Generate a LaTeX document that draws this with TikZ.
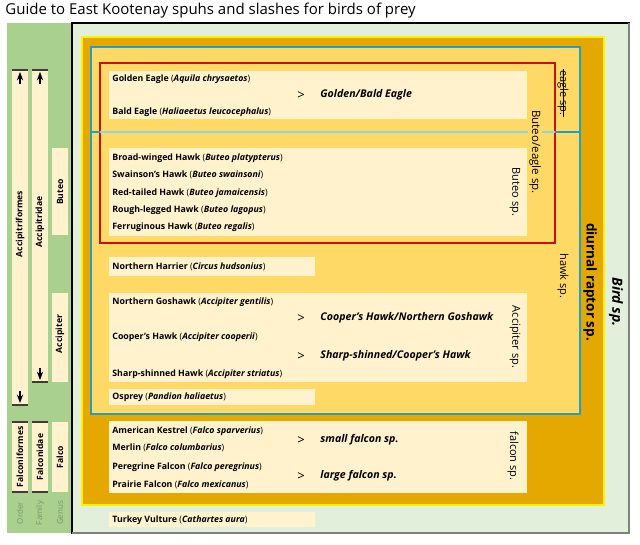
\documentclass[tikz,border=0pt]{standalone}
\usepackage{fontspec}
\setmainfont{Open Sans}
\usetikzlibrary{arrows.meta}

\definecolor{sidegreen}{RGB}{169,208,142}
\definecolor{mainbg}{RGB}{226,239,218}
\definecolor{raptor}{RGB}{229,168,0}
\definecolor{hawkfill}{RGB}{255,217,102}
\definecolor{hawkcyan}{RGB}{30,160,200}
\definecolor{lightcyan}{RGB}{140,212,232}
\definecolor{buteored}{RGB}{200,16,16}
\definecolor{cream}{RGB}{255,242,204}
\definecolor{rankgray}{RGB}{120,150,105}
\definecolor{rankline}{RGB}{60,60,60}

\newcommand{\spp}[2]{\textbf{#1} (\textbf{\textit{#2}})}

\tikzset{
  title/.style={anchor=west, inner sep=0pt, font=\fontsize{15}{17}\selectfont},
  sp/.style={anchor=west, inner sep=0pt, font=\fontsize{8.8}{10}\selectfont},
  slash/.style={anchor=west, inner sep=0pt, font=\bfseries\itshape\fontsize{10.6}{12}\selectfont},
  gt/.style={inner sep=0pt, font=\fontsize{13}{14}\selectfont},
  grp/.style={rotate=-90, inner sep=1pt, font=\fontsize{11}{12}\selectfont},
  tax/.style={rotate=90, inner sep=0pt, font=\bfseries\fontsize{8.6}{9}\selectfont},
  rank/.style={rotate=90, inner sep=0pt, text=rankgray, font=\fontsize{8}{9}\selectfont},
  bar/.style={rankline, line width=1.5},
}

\begin{document}
\begin{tikzpicture}[x=1pt, y=-1pt, >=Stealth, thick]
  \useasboundingbox (0,0) rectangle (640,544);
  % --- title ---
  \node[title] (title) at (5,11) {Guide to East Kootenay spuhs and slashes for birds of prey};

  % --- left: order / family / genus ---
  \fill[sidegreen] (7,23) rectangle (72,533);
  \fill[cream] (12,70) rectangle (28,405);
  \fill[cream] (32,70) rectangle (48,382);
  \fill[cream] (52,148) rectangle (68,235);
  \fill[cream] (52,293) rectangle (68,382);
  \fill[cream] (12,422) rectangle (28,492);
  \fill[cream] (32,422) rectangle (48,492);
  \fill[cream] (52,422) rectangle (68,492);
  \draw[bar] (12,70) -- (28,70) (32,70) -- (48,70);
  \draw[bar] (12,405) -- (28,405) (32,382) -- (48,382);
  \draw[bar] (12,422) -- (28,422) (32,422) -- (48,422);
  \draw[bar] (12,492) -- (28,492) (32,492) -- (48,492);
  % arrows
  \draw[->, line width=1.2] (20,84) -- (20,72);
  \draw[->, line width=1.2] (40,84) -- (40,72);
  \draw[->, line width=1.2] (20,391) -- (20,403);
  \draw[->, line width=1.2] (40,368) -- (40,380);
  % labels
  \node[tax] (accipitriformes) at (20,224) {Accipitriformes};
  \node[tax] (accipitridae) at (40,222) {Accipitridae};
  \node[tax] (buteo) at (60,192) {Buteo};
  \node[tax] (accipiter) at (60,334) {Accipiter};
  \node[tax] (falconiformes) at (20,457) {Falconiformes};
  \node[tax] (falconidae) at (40,457) {Falconidae};
  \node[tax] (falco) at (60,457) {Falco};
  \node[rank] (order) at (20,513) {Order};
  \node[rank] (family) at (40,513) {Family};
  \node[rank] (genus) at (60,513) {Genus};

  % --- right: nested groups ---
  \draw[black, line width=1.2, fill=mainbg] (72,23) rectangle (629,533);
  \draw[gray, line width=1.2] (629,23) -- (629,533) -- (72,533);
  \draw[yellow, line width=2, fill=raptor] (82,37) rectangle (604,505);
  \draw[hawkcyan, line width=1.5, fill=hawkfill] (91,47) rectangle (580,414);
  % species boxes
  \fill[cream] (109,71) rectangle (527,119);
  \fill[cream] (109,148) rectangle (527,236);
  \fill[cream] (109,257) rectangle (315,276);
  \fill[cream] (109,293) rectangle (527,382);
  \fill[cream] (109,389) rectangle (315,405);
  \fill[cream] (109,421) rectangle (527,493);
  \fill[cream] (109,512) rectangle (315,527);
  % Buteo/eagle
  \draw[buteored, line width=1.5] (100,63) rectangle (555,243);
  % eagle / hawk divider
  \draw[hawkcyan, line width=1.5] (91,132) -- (100,132) (555,132) -- (580,132);
  \draw[lightcyan, line width=1.5] (100,132) -- (555,132);

  % --- species ---
  \node[sp] (golden) at (112,79) {\spp{Golden Eagle}{Aquila chrysaetos}};
  \node[sp] (bald) at (112,112) {\spp{Bald Eagle}{Haliaeetus leucocephalus}};
  \node[sp] (broadwinged) at (112,158) {\spp{Broad-winged Hawk}{Buteo platypterus}};
  \node[sp] (swainson) at (112,175) {\spp{Swainson's Hawk}{Buteo swainsoni}};
  \node[sp] (redtailed) at (112,193) {\spp{Red-tailed Hawk}{Buteo jamaicensis}};
  \node[sp] (roughlegged) at (112,210) {\spp{Rough-legged Hawk}{Buteo lagopus}};
  \node[sp] (ferruginous) at (112,227) {\spp{Ferruginous Hawk}{Buteo regalis}};
  \node[sp] (harrier) at (112,267) {\spp{Northern Harrier}{Circus hudsonius}};
  \node[sp] (goshawk) at (112,302) {\spp{Northern Goshawk}{Accipiter gentilis}};
  \node[sp] (cooper) at (112,337) {\spp{Cooper's Hawk}{Accipiter cooperii}};
  \node[sp] (sharpshinned) at (112,374) {\spp{Sharp-shinned Hawk}{Accipiter striatus}};
  \node[sp] (osprey) at (112,397) {\spp{Osprey}{Pandion haliaetus}};
  \node[sp] (kestrel) at (112,431) {\spp{American Kestrel}{Falco sparverius}};
  \node[sp] (merlin) at (112,448) {\spp{Merlin}{Falco columbarius}};
  \node[sp] (peregrine) at (112,467) {\spp{Peregrine Falcon}{Falco peregrinus}};
  \node[sp] (prairie) at (112,485) {\spp{Prairie Falcon}{Falco mexicanus}};
  \node[sp] (vulture) at (112,520) {\spp{Turkey Vulture}{Cathartes aura}};

  % --- slashes ---
  \node[gt] (gteagle) at (301,96) {>};
  \node[slash] (goldenbald) at (320,95) {Golden/Bald Eagle};
  \node[gt] (gtgoshawk) at (301,319) {>};
  \node[slash] (coopergoshawk) at (320,318) {Cooper's Hawk/Northern Goshawk};
  \node[gt] (gtcooper) at (301,357) {>};
  \node[slash] (sharpcooper) at (320,356) {Sharp-shinned/Cooper's Hawk};
  \node[gt] (gtsmall) at (301,441) {>};
  \node[slash] (smallfalcon) at (320,440) {small falcon sp.};
  \node[gt] (gtlarge) at (301,477) {>};
  \node[slash] (largefalcon) at (320,476) {large falcon sp.};

  % --- spuhs ---
  \node[grp] (eaglesp) at (563,93) {eagle sp.};
  \draw[line width=0.6] (eaglesp.west) -- (eaglesp.east);
  \node[grp, fill=hawkfill, font=\fontsize{11.5}{12}\selectfont] (buteoeaglesp) at (535,152) {Buteo/eagle sp.};
  \node[grp] (buteosp) at (515,192) {Buteo sp.};
  \node[grp] (hawksp) at (563,276) {hawk sp.};
  \node[grp] (accipitersp) at (515,337) {Accipiter sp.};
  \node[grp] (falconsp) at (513,456) {falcon sp.};
  \node[grp, font=\bfseries\fontsize{13.5}{15}\selectfont] (raptorsp) at (590,282) {diurnal raptor sp.};
  \node[grp, font=\bfseries\itshape\fontsize{14}{16}\selectfont] (birdsp) at (616,302) {Bird sp.};
\end{tikzpicture}
\end{document}
